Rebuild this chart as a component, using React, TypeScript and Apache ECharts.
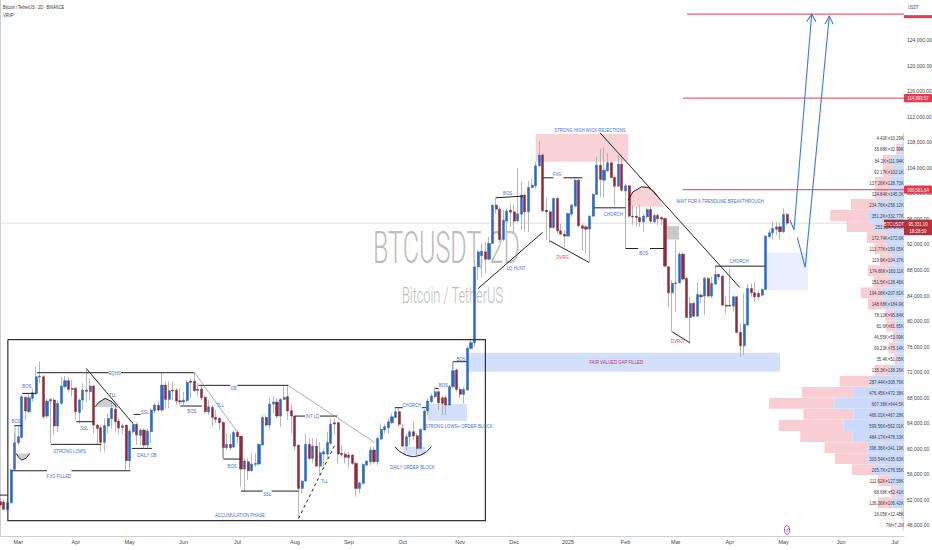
import React, { useEffect, useRef } from "react";
import * as echarts from "echarts";

// Candles: [open, close, low, high]
const candlesA = [
[51720,51200,51040,52240],[51660,50520,50410,51980],[50520,51560,50410,52240],[51560,56680,51460,56940],[56780,60960,56680,62420],[60960,61900,60590,63460],[61790,68160,61640,68420],[68060,65920,64510,68260],[65810,68000,65550,68680],[67900,68790,67380,69470],
[68680,71290,68420,72860],[71240,71400,70250,73640],[71290,65030,64770,71550],[65130,67480,64770,67900],[67480,67740,60850,67900],[67640,63570,62160,67900],[63570,67120,62680,67640],[67120,69830,66860,71290],[69730,70670,69470,71400],[70670,69310,68940,71290],
[69470,69310,68160,70770],[69470,65810,64510,69730],[65710,67640,63980,67900],[67640,69200,66070,70250],[69200,69000,67380,72340],[68940,69830,67640,71030],[69830,63720,62420,69990],[63720,63200,60590,63980],[63300,61010,59550,63720],[61010,63670,59550,64770],
[63570,64770,62420,65550],[64720,66330,63200,67380],[66230,64250,62680,67120],[64350,63250,62420,64770],[63300,63620,62310,63980],[63720,58140,56680,63720],[58140,62780,56780,63200],[62680,63830,62310,64250],[63830,62160,60590,64090],[62100,62940,60590,63200],
[62940,60590,60070,63200],[60590,62780,60070,63200],[62680,66070,60850,66330],[65970,66860,65550,67120],[66800,66070,65810,67380],[66070,69990,65810,71920],[69990,67740,66330,70510],[67740,69100,66330,70510],[69200,69050,67640,70510],[69200,67480,66860,69470],
[67530,67330,66860,69470],[67330,67640,66860,68940],[67530,70400,67380,70770],[70610,70400,67900,71030],[70610,69100,68940,71920],[69100,69360,68160,70250],[69360,68000,67640,69990],[68060,65810,65550,68320],[65760,66590,65290,67640],[66490,64920,63460,66860],
[64920,64610,63980,66070],[64770,64090,62940,64920],[64140,60170,58500,64400],[60170,60700,59810,62420],[60700,60170,59810,62420],[60280,62580,60070,62940],[62580,61900,60850,62940],[62000,56830,54070,62000],[56830,58090,53280,58500],[57980,56570,55110,58500],
[56570,57620,56420,59290],[57560,57720,57200,59290],[57620,60700,57460,60850],[60590,64920,60590,65290],[64920,63720,63460,65290],[63720,67010,62940,67900],[67010,67330,65550,68260],[67330,65130,64770,67900],[65130,67740,63460,67900],[67740,68060,67640,69730],
[68160,65920,64510,69990],[65970,65130,62420,66860],[65130,60430,59810,65290],[60590,53800,49110,60590],[53800,54950,53020,55110],[54950,60700,54850,62420],[60700,58500,58240,61640],[58500,60430,57720,61640],[60430,57300,57200,61640],[57300,59390,55890,61110],
[59180,59550,57200,60070],[59180,61010,58500,62680],[60850,63880,60590,64770],[64090,63880,62420,64770],[64090,59180,57720,64250],[59290,59080,58760,60590],[59180,58660,57720,59550],[59030,58660,56940,59550],[59030,57720,57460,59180],[57720,53800,52500,57980],
];
const candlesB = [
[53800,54690,53020,54850],[54590,57560,54480,57720],[57460,58090,57200,58240],[57980,59810,57460,60330],[59810,57980,57720,60330],[57980,61640,57460,61900],[61530,63040,61370,63980],[62940,63460,62420,63830],[63300,64250,62420,64770],[64090,65030,63880,65550],
[64920,65810,64770,66330],[65810,63830,63460,66330],[63200,60430,60330,63830],[60430,61900,59810,62420],[61900,62680,60590,62940],[62680,62000,61370,64250],[62050,60070,59030,62420],[60070,63040,59910,63200],[62940,65920,62840,66180],[65920,67480,65290,67900],
[67380,68260,67120,68680],[68160,68940,67900,69730],[68940,67220,66070,69200],[68000,67120,65290,68160],[68000,66860,65290,68420],[66860,69730,66700,69990],[69730,72230,69470,73640],[72340,69310,68940,72600],[69310,68530,67900,69620],[68530,69310,67120,69730],
[69200,75730,69200,75990],[75730,76620,75470,77030],[76620,88490,76000,89540],[88490,90840,86400,91100],[90220,90950,86930,92150],[90840,89690,87450,92410],[89690,92150,89540,93190],[92150,98150,92150,98250],[98150,97520,96840,99350],[97520,92770,92410,97890],
[92770,95800,92560,97370],[95640,97210,93970,97630],[97370,97050,94760,98410],[97100,95640,93970,98150],[95700,96790,95540,103890],[96740,99720,94230,101800],[99720,97100,93970,99980],[97100,100920,93970,101960],[100920,101280,100760,102330],[101180,104310,100760,104940],
[104310,105980,104150,108070],[105980,97260,97100,106240],[97370,97100,92670,99350],[97100,94650,92150,97370],[94650,99190,94500,99350],[99190,94130,93710,99350],[94130,93610,93450,95280],[93610,93290,91620,94230],[93290,96840,93290,96950],[96740,98150,96320,98310],
[97990,102060,97890,102330],[102060,94910,94760,102330],[94910,94500,91100,95280],[94760,94390,90580,95020],[94390,96430,89280,96580],[96430,99820,96320,99980],[99820,104410,99720,105720],[104410,102170,99450,107020],[102060,103630,99350,107180],[103530,104780,103370,106240],
[104780,102480,102330,104940],[102480,101120,97890,102850],[101120,104570,101020,105980],[104570,100500,100240,105980],[100390,101180,96320,101540],[101180,96430,96220,101280],[96430,96320,95020,98150],[96430,96220,94760,97890],[96220,95540,94760,98150],[95540,96430,93970,96840],
[96320,97470,96060,97780],[97470,95640,95280,97890],[95540,96530,95280,96840],[96530,96010,95020,96840],[96220,95960,95020,96430],[96060,88600,88490,96220],[88500,84430,82130,88600],[84430,85890,78320,86410],[85990,85890,81450,92680],[85990,90480,85890,90850],
[90480,86570,86410,90690],[86670,80570,80410,86930],[80570,82760,76490,83800],[82760,80770,80670,83020],[80770,84170,80670,86150],[84060,83800,82760,84320],[83910,86670,80930,86930],[86670,83910,83800,86930],[83910,85890,83540,86930],[85790,87300,85630,88600],
[87300,86930,86410,87460],[87040,82500,82340,87190],[82500,82340,81190,83800],[82500,82340,82240,88240],[82340,83800,81450,84060],[83800,78220,78060,83910],[78220,76130,74410,79630],[76130,79520,74670,84320],[79360,85110,79360,85790],[85110,84430,83800,85890],
[84430,83800,83020,86150],[84320,83800,83280,84850],[84060,84950,83800,85260],[84950,93300,84850,93460],[93200,93820,92940,94350],[93820,94500,92780,95550],[94350,94760,93460,95550],[94760,93980,92780,95390],[93980,96690,93820,97630],[96690,95330,95020,96850],
];
const candles = [...candlesA, ...candlesB];

const slotCount = 252;
const monthTicks: [number, string][] = [[5,"Mar"],[21,"Apr"],[36,"May"],[51,"Jun"],[66,"Jul"],[82,"Aug"],[97,"Sep"],[112,"Oct"],[128,"Nov"],[143,"Dec"],[158,"2025"],[174,"Feb"],[188,"Mar"],[203,"Apr"],[218,"May"],[234,"Jun"],[249,"Jul"]];
const priceTicks = [48000,52000,56000,60000,64000,68000,72000,76000,80000,84000,88000,92000,96000,100000,104000,108000,112000,116000,120000,124000];

// Volume profile, top row to bottom row
const volumeLabels = ["4.42K×10.29K","38.88K×32.99K","84.2K×111.94K","92.17K×102.1K","137.26K×128.73K","124.84K×145.3K","234.76K×258.12K","351.2K×332.77K","253.52K×278K","172.74K×172.6K","113.77K×159.05K","119.9K×104.37K","174.66K×160.11K","151.5K×128.46K","194.08K×207.81K","148.68K×184.9K","78.13K×95.84K","81.6K×81.65K","46.55K×53.99K","69.23K×75.14K","35.4K×51.05K","135.3K×138.26K","287.44K×308.76K","476.45K×472.38K","607.36K×644.5K","466.01K×467.28K","599.56K×562.01K","484.17K×478.33K","396.36K×341.19K","303.54K×335.63K","205.7K×276.55K","111.62K×127.58K","68.68K×52.41K","136.36K×106.42K","16.05K×12.48K","7M×7.2M"];
const volumeSell = [4.42,38.88,84.2,92.17,137.26,124.84,234.76,351.2,253.52,172.74,113.77,119.9,174.66,151.5,194.08,148.68,78.13,81.6,46.55,69.23,35.4,135.3,287.44,476.45,607.36,466.01,599.56,484.17,396.36,303.54,205.7,111.62,68.68,136.36,16.05,7];
const volumeBuy = [10.29,32.99,111.94,102.1,128.73,145.3,258.12,332.77,278,172.6,159.05,104.37,160.11,128.46,207.81,184.9,95.84,81.65,53.99,75.14,51.05,138.26,308.76,472.38,644.5,467.28,562.01,478.33,341.19,335.63,276.55,127.58,52.41,106.42,12.48,7.2];
const rowPriceTop = 108640;
const rowPriceStep = 1730;

// Drawn annotations, in [candle index, price]
const blackSegments = [
[-0.5,52760,2,52760],[3.9,63620,6,63620],[6.1,68680,10,68680],[10.2,71920,30.1,71920],[33.6,71920,54,71920],[23.9,72600,36.9,63980],[21.1,64250,26,64250],[14.1,60700,28.1,60700],[36.6,60070,42.2,60070],[3.2,56570,13,56570],[19.8,56570,36.2,56570],[37.1,65390,39,65390],[50.1,66700,56.1,66700],[55.2,69940,64,69940],[66,69940,80.2,69940],[62.1,58400,66.8,58400],[67,53390,73,53390],[75.5,53390,83,53390],[82,65130,84.8,65130],[89,65130,93.8,65130],[109.8,66440,112,66440],[117.3,66440,118.6,66440],[121,69470,122,69470],[126,73640,129.8,73640],[133,85100,150.9,93870],[137.9,99300,145.5,99560],[151.1,102430,153.9,102430],[156.7,102430,162,102430],[166.9,109480,205.8,85260],[152.9,92560,163.9,89170],[165.3,97730,174,97730],[174,91360,177.5,91360],[180.8,91360,184.7,91360],[198.9,88600,212.8,88600],[187,78320,191.9,76600],
];
const greySegments = [[54.1,71920,65.9,62680],[80.2,69880,104.3,60960],[4.1,63620,4.1,57200],[126,73640,126,72340],[174,97730,174,91360],[62.1,60290,62.1,58400]];
const dashedSegments = [[83,49110,93.1,60590]];
const redSegments = [[191.1,128050,251.5,128050],[190,114899.57,251.5,114899.57],[189.9,100581.64,251.5,100581.64]];
const priceLine = [[-0.5,95331.1,251.5,95331.1]];
const boxOutline = [[2.1,77110],[135,77110],[135,48750],[2.1,48750],[2.1,77110]];
const cupA = [[4.45,59290],[5.1,58660],[6,58240],[7.2,58550],[8.2,59290]];
const capB = [[26.4,66590],[27.4,67270],[29.2,67900],[31.1,67380],[32.5,66490]];
const cupC = [[109.8,60330],[111.2,59550],[113.1,58970],[114.9,58760],[116.8,58970],[118.6,59550],[120,60330]];
const capD = [[174.7,98930],[176.1,100240],[178.5,101020],[180.3,100920],[181.7,100400],[183.6,99040]];
const capDShade = [[175,97890],...capD,[184.5,97890]];
const arrowOne = [[219.8,95810],[220.9,94250],[225.8,128050]];
const arrowOneHead = [[224.4,126850],[225.8,128050],[227,126850]];
const arrowTwo = [[221.8,93100],[224,88410],[230.7,127740]];
const arrowTwoHead = [[229.5,126480],[230.7,127740],[231.8,126480]];

const pinkZones = [[149,109270,174.8,104935]];
const blueZones = [[130.2,75050,217,72075],[118.9,67010,129.9,64400],[112.2,60330,118.2,59000]];
const paleZones = [[213.2,90690,224.8,84850]];
const greyZones = [[185.4,94860,188.9,92770]];

const blueLabels: [string, number, number][] = [
["BOS",4.4,64400],["BOS",7.4,69880],["EQHS",31.8,71920],["TLL",31.3,68530],["SSL",23.4,63310],["STRONG LOWS",19.3,59700],["DAILY OB",40.8,59030],["FVG FILLED",16.3,55840],["SSL",40.2,65800],["BOS",53.3,65920],["OB",64.9,69570],["BOS",64.5,57360],["TLL",61.2,66860],["ACCUMULATION PHASE",66.7,49630],["SSL",74.3,53000],["INT LQ",86.9,65130],["TLL",90.2,55010],["CHORCH",114.5,66860],["DAILY ORDER BLOCK",114.7,57200],["BOS",123.3,69990],["BOS",128.2,74160],["STRONG LOWS+ ORDER BLOCK",127.6,63570],["LQ HUNT",143.5,88340],["BOS",141.2,100080],["FVG",155,103000],["STRONG HIGH WICK REJECTIONS",164.1,110000],["CHORCH",170.6,96840],["BOS",179.1,90740],["WAIT FOR A TRENDLINE BREAKTHROUGH",200.3,98840],["CHORCH",205.6,89490],
];
const redLabels: [string, number, number][] = [["DVRG",156.5,90060],["DVRG",188.4,76860]];
const magentaLabels: [string, number, number][] = [["FAIR VALUED GAP FILLED",171.4,73590]];
const redTags: [string, number][] = [["114,899.57",114899.57],["100,581.64",100581.64]];

const FONT = '"Liberation Sans",sans-serif';
const BLUE = "#2b68c9";
const RED = "#8f2b3a";

function overlay(name: string, axis: number, items: any[], z: number, draw: (it: any, api: any) => any) {
  return {
    type: "custom", name, xAxisIndex: axis, yAxisIndex: 0, z, silent: true,
    data: items.map((_, i) => [i, 60000]),
    renderItem: (p: any, api: any) => draw(items[p.dataIndex], api),
  };
}
const segment = (stroke: string, lineWidth: number, lineDash?: number[]) => (s: number[], api: any) => ({
  type: "polyline",
  shape: { points: [api.coord([s[0], s[1]]), api.coord([s[2], s[3]])] },
  style: { stroke, lineWidth, fill: "none", lineDash },
});
const path = (stroke: string, lineWidth: number, fill = "none") => (pts: number[][], api: any) => ({
  type: fill === "none" ? "polyline" : "polygon",
  shape: { points: pts.map((q) => api.coord(q)) },
  style: { stroke, lineWidth, fill },
});
const zone = (fill: string) => (r: number[], api: any) => {
  const a = api.coord([r[0], r[1]]);
  const b = api.coord([r[2], r[3]]);
  return { type: "rect", shape: { x: a[0], y: a[1], width: b[0] - a[0], height: b[1] - a[1] }, style: { fill } };
};
const label = (fill: string) => (l: [string, number, number], api: any) => {
  const c = api.coord([l[1], l[2]]);
  return {
    type: "text", x: c[0], y: c[1], scaleX: 0.72,
    style: { text: l[0], fontSize: 6, fontFamily: FONT, fill, align: "center", verticalAlign: "middle" },
  };
};

export default function App() {
  const ref = useRef<HTMLDivElement>(null);
  useEffect(() => {
    const chart = echarts.init(ref.current!, undefined, { renderer: "svg" });
    const ticks = new Map(monthTicks);
    const categories = Array.from({ length: slotCount }, (_, i) => ticks.get(i) ?? String(i));
    const rows = volumeLabels.map((text, i) => ({ text, sell: volumeSell[i], buy: volumeBuy[i], price: rowPriceTop - i * rowPriceStep }));
    const halfRow = rowPriceStep * 0.49;
    chart.setOption({
      animation: false,
      backgroundColor: "#ffffff",
      grid: { left: -1.5, top: 0, width: 905.5, height: 536, containLabel: false, outerBoundsMode: "none" },
      xAxis: [
        {
          type: "category", data: categories, boundaryGap: true,
          axisLine: { lineStyle: { color: "#cfcfcf" } }, axisTick: { show: false }, splitLine: { show: false },
          axisLabel: { interval: (i: number) => ticks.has(i), color: "#444", fontSize: 5.5, fontFamily: FONT, margin: 3 },
        },
        { type: "value", min: -0.5, max: slotCount - 0.5, show: false },
        { type: "value", min: 0, max: 8400, inverse: true, show: false },
      ],
      yAxis: {
        type: "value", position: "right", min: 46356, max: 130262, scale: true,
        axisLine: { show: true, lineStyle: { color: "#cfcfcf" } }, axisTick: { show: false }, splitLine: { show: false },
        axisLabel: {
          customValues: priceTicks, color: "#444", fontSize: 5, fontFamily: FONT, margin: 3,
          formatter: (v: number) => v.toLocaleString("en-US", { minimumFractionDigits: 2, maximumFractionDigits: 2 }),
        },
      },
      graphic: [
        { type: "text", x: 373, y: 248, scaleX: 0.57, z: 0, silent: true, style: { text: "BTCUSDT, 2D", fontSize: 44, fontFamily: "Roboto", fontWeight: 300, fill: "#bdbdbd", verticalAlign: "middle" } },
        { type: "text", x: 402, y: 295, scaleX: 0.58, z: 0, silent: true, style: { text: "Bitcoin / TetherUS", fontSize: 22, fontFamily: "Roboto", fontWeight: 300, fill: "#bdbdbd", verticalAlign: "middle" } },
        { type: "text", x: 3, y: 7, scaleX: 0.72, z: 9, silent: true, style: { text: "Bitcoin / TetherUS · 2D · BINANCE", fontSize: 5.5, fontFamily: FONT, fill: "#333", verticalAlign: "middle" } },
        { type: "text", x: 3, y: 15, scaleX: 0.72, z: 9, silent: true, style: { text: "VRVP", fontSize: 5.5, fontFamily: FONT, fill: "#333", verticalAlign: "middle" } },
        { type: "text", x: 908, y: 7, scaleX: 0.72, z: 9, silent: true, style: { text: "USDT", fontSize: 5.5, fontFamily: FONT, fill: "#444", verticalAlign: "middle" } },
        { type: "ellipse", z: 9, silent: true, shape: { cx: 787, cy: 530, rx: 2.6, ry: 4.4 }, style: { stroke: "#b044c8", fill: "#fff", lineWidth: 0.9 } },
        { type: "line", z: 9, silent: true, shape: { x1: 786, y1: 532, x2: 788.4, y2: 528 }, style: { stroke: "#b044c8", lineWidth: 0.8 } },
      ],
      series: [
        overlay("Price line", 1, priceLine, 1, segment("#dedede", 1)),
        overlay("Pink zones", 1, pinkZones, 1, zone("#f9d2d7")),
        overlay("Pink cap", 1, [capDShade], 1, path("none", 0, "#f9d2d7")),
        overlay("Blue zones", 1, blueZones, 1, zone("#d3dffb")),
        overlay("Pale zones", 1, paleZones, 1, zone("#e8eefd")),
        overlay("Grey zones", 1, greyZones, 1, zone("#c9c9c9")),
        overlay("Grey cups", 1, [cupA, capB], 1, path("none", 0, "#cfcfcf")),
        overlay("Volume profile", 2, rows, 1, (r: any, api: any) => {
          const top = api.coord([0, r.price + halfRow])[1];
          const bot = api.coord([0, r.price - halfRow])[1];
          const x0 = api.coord([0, r.price])[0];
          const xb = api.coord([r.buy, r.price])[0];
          const xs = api.coord([r.buy + r.sell, r.price])[0];
          return {
            type: "group",
            children: [
              { type: "rect", shape: { x: xs, y: top, width: xb - xs, height: bot - top }, style: { fill: "#f8cdd3" } },
              { type: "rect", shape: { x: xb, y: top, width: x0 - xb, height: bot - top }, style: { fill: "#cbdafa" } },
            ],
          };
        }),
        {
          type: "candlestick", name: "Wicks", z: 2, barWidth: 0.5, silent: true,
          data: candles.map((c) => [c[0], c[1], c[2], c[3]]),
          itemStyle: { color: "#a6a6a6", color0: "#a6a6a6", borderColor: "#a6a6a6", borderColor0: "#a6a6a6", borderWidth: 0.8 },
        },
        {
          type: "candlestick", name: "BTCUSDT", z: 3, barWidth: 2.6, silent: true,
          data: candles.map((c) => [c[0], c[1], Math.min(c[0], c[1]), Math.max(c[0], c[1])]),
          itemStyle: { color: BLUE, color0: RED, borderColor: BLUE, borderColor0: RED, borderWidth: 0.5 },
        },
        overlay("Box", 1, [boxOutline], 4, path("#333333", 1.2)),
        overlay("Black lines", 1, blackSegments, 4, segment("#222222", 1)),
        overlay("Grey lines", 1, greySegments, 4, segment("#8a8a8a", 0.7)),
        overlay("Dashed line", 1, dashedSegments, 4, segment("#222222", 1, [3, 3])),
        overlay("Red lines", 1, redSegments, 4, segment("#e8606e", 1.1)),
        overlay("Curves", 1, [cupA, capB, cupC, capD], 4, path("#222222", 1)),
        overlay("Arrows", 1, [arrowOne, arrowOneHead, arrowTwo, arrowTwoHead], 4, path("#3e78e2", 1.1)),
        overlay("Volume text", 2, rows, 5, (r: any, api: any) => {
          const c = api.coord([1, r.price]);
          return { type: "text", x: c[0], y: c[1], scaleX: 0.72, style: { text: r.text, fontSize: 6, fontFamily: FONT, fill: "#3b4252", align: "right", verticalAlign: "middle" } };
        }),
        overlay("Blue labels", 1, blueLabels, 5, label("#3f70e4")),
        overlay("Red labels", 1, redLabels, 5, label("#e8405f")),
        overlay("Magenta labels", 1, magentaLabels, 5, label("#a63a86")),
        overlay("Red tags", 1, redTags, 6, (t: [string, number], api: any) => {
          const y = api.coord([0, t[1]])[1];
          return {
            type: "group",
            children: [
              { type: "rect", shape: { x: 904, y: y - 4.2, width: 28, height: 8.4, r: 1 }, style: { fill: "#e8394e" } },
              { type: "text", x: 918, y, scaleX: 0.72, style: { text: t[0], fontSize: 6, fontFamily: FONT, fill: "#fff", align: "center", verticalAlign: "middle" } },
            ],
          };
        }),
        overlay("Top tag", 1, [128050], 6, (p: number, api: any) => {
          const y = api.coord([0, p])[1];
          return { type: "rect", shape: { x: 904, y: y + 1, width: 28, height: 3 }, style: { fill: "#e8394e" } };
        }),
        overlay("Last price", 1, [95331.1], 6, (p: number, api: any) => {
          const y = api.coord([0, p])[1];
          const t = (text: string, x: number, yy: number) => ({ type: "text", x, y: yy, scaleX: 0.72, style: { text, fontSize: 6, fontFamily: FONT, fill: "#fff", align: "center", verticalAlign: "middle" } });
          return {
            type: "group",
            children: [
              { type: "rect", shape: { x: 884, y: y - 3.5, width: 20, height: 8 }, style: { fill: "#a52a35" } },
              { type: "rect", shape: { x: 904, y: y - 3.5, width: 28, height: 15.5 }, style: { fill: "#b5303b" } },
              t("BTCUSDT", 894, y + 0.5),
              t("95,331.10", 918, y + 0.5),
              t("18:28:59", 918, y + 8),
            ],
          };
        }),
      ],
    });
    return () => chart.dispose();
  }, []);
  return <div ref={ref} style={{ position: "fixed", left: 0, top: 0, width: 932, height: 550 }} />;
}
